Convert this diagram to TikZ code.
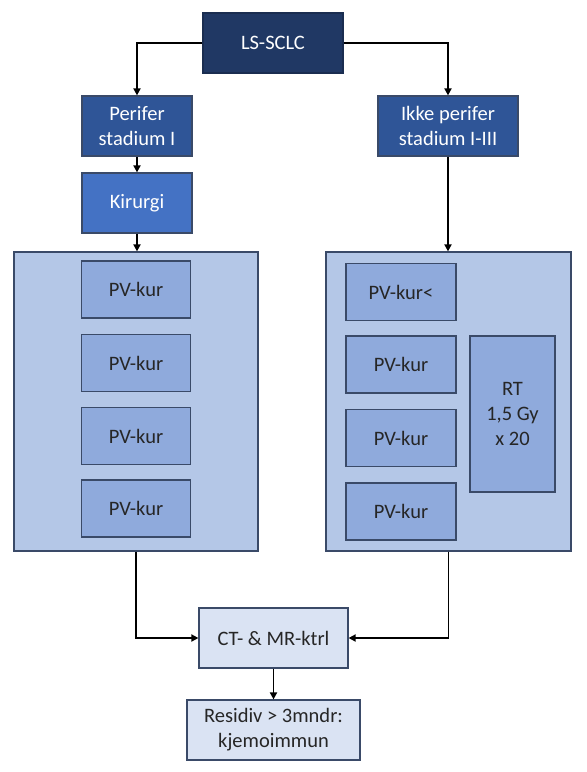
\documentclass[tikz,border=0pt]{standalone}
\usepackage{fontspec}
\setmainfont{Carlito}
\usetikzlibrary{arrows.meta,positioning}
\definecolor{navy}{HTML}{203864}
\definecolor{stage}{HTML}{2F5597}
\definecolor{surgery}{HTML}{4472C4}
\definecolor{panel}{HTML}{B4C7E7}
\definecolor{course}{HTML}{8FAADC}
\definecolor{followup}{HTML}{DAE3F3}
\definecolor{edge}{HTML}{3A4A68}

\begin{document}
\begin{tikzpicture}[x=1pt, y=-1pt,
    box/.style={draw=edge, line width=1.2pt, inner sep=0pt, align=center,
        font=\fontsize{20.5}{25}\selectfont},
    darkbox/.style={box, text=white, minimum width=110, minimum height=60},
    pvbox/.style={box, fill=course, text=black!85, minimum width=109, minimum height=57},
    flow/.style={-{Triangle[length=7pt, width=7pt]}, line width=1.9pt}]
    \useasboundingbox (0,0) rectangle (587,772);

    % Top: diagnosis and staging
    \node[darkbox, fill=navy, draw=navy!80!black, minimum width=140] (sclc) at (273,43) {LS-SCLC};
    \node[darkbox, fill=stage] (perifer) at (137,126) {Perifer\\stadium I};
    \node[darkbox, fill=stage, minimum width=140] (ikke) at (448,126) {Ikke perifer\\stadium I-III};
    \node[darkbox, fill=surgery] (kirurgi) at (137,203) {Kirurgi};

    % Panels
    \node[box, fill=panel, minimum width=244, minimum height=299] (leftpanel) at (136,401.5) {};
    \node[box, fill=panel, minimum width=245, minimum height=299] (rightpanel) at (448.5,401.5) {};

    % Left panel: chemotherapy courses
    \foreach \y [count=\i] in {289.5,363,436,508.5}
        \node[pvbox] (lpv\i) at (136,\y) {PV-kur};

    % Right panel: chemotherapy courses with radiotherapy
    \node[pvbox, minimum width=110] (rpv1) at (401,292) {PV-kur<};
    \foreach \y [count=\i from 2] in {364.5,438,511.5}
        \node[pvbox, minimum width=110] (rpv\i) at (401,\y) {PV-kur};
    \node[pvbox, minimum width=85, minimum height=156] (rt) at (512.5,414) {RT\\1,5 Gy\\x 20};

    % Follow-up
    \node[box, fill=followup, text=black!85, minimum width=149, minimum height=60] (ktrl) at (273.5,638) {CT- \& MR-ktrl};
    \node[box, fill=followup, text=black!85, minimum width=173, minimum height=60] (residiv) at (273.5,730) {Residiv > 3mndr:\\kjemoimmun};

    % Connectors
    \draw[flow] (sclc.west) -| (perifer.north);
    \draw[flow] (sclc.east) -| (ikke.north);
    \draw[flow] (perifer) -- (kirurgi);
    \draw[flow] (kirurgi.south) -- (kirurgi.south |- leftpanel.north);
    \draw[flow] (ikke.south) -- (ikke.south |- rightpanel.north);
    \draw[flow] (leftpanel.south) |- (ktrl.west);
    \draw[flow] (rightpanel.south) |- (ktrl.east);
    \draw[flow] (ktrl) -- (residiv);
\end{tikzpicture}
\end{document}
